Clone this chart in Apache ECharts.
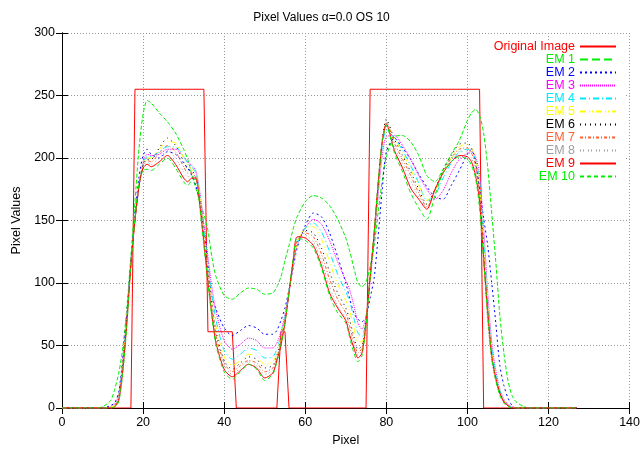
<!DOCTYPE html>
<html>
<head>
<meta charset="utf-8">
<script src="https://cdn.jsdelivr.net/npm/echarts@6/dist/echarts.min.js"></script>
<style>
  html, body { margin: 0; padding: 0; background: #fff; }
  #chart { width: 643px; height: 452px; }
</style>
</head>
<body>
<div id="chart"></div>
<script>
// sample positions (pixel index) shared by all EM curves
const pixels = [0, 8, 10, 12, 13, 14, 15, 16, 17, 18,
  19, 20, 21, 22, 24, 26, 28, 30, 31, 32,
  33, 34, 35, 36, 37, 38, 40, 42, 44, 46,
  48, 50, 52, 53, 54, 55, 56, 57, 58, 60,
  62, 64, 66, 68, 70, 71, 72, 73, 74, 75,
  76, 77, 78, 79, 80, 82, 84, 86, 88, 90,
  92, 94, 96, 98, 100, 101, 102, 103, 104, 105,
  106, 107, 108, 109, 110, 111, 112, 114, 116, 127];

// original step image
const origX = [0, 17, 18, 35, 36, 42, 43, 53, 54, 55, 56, 75, 76, 103, 104, 127];
const origY = [0, 0, 255, 255, 61, 61, 0, 0, 61, 61, 0, 0, 255, 255, 0, 0];

const em1 = [0, 0, 1, 6, 15, 28, 48, 80, 122, 165,
  208, 235, 246, 244, 236, 229, 220, 207, 199, 187,
  176, 165, 155, 142, 120, 105, 90, 87, 92, 96,
  95, 91, 92, 97, 105, 118, 130, 143, 153, 165,
  170, 168, 162, 151, 136, 125, 112, 100, 97, 101,
  113, 130, 157, 182, 201, 217, 218, 213, 202, 186,
  181, 191, 203, 214, 230, 236, 239, 234, 220, 193,
  156, 117, 74, 44, 22, 10, 5, 1, 0, 0];
const em2 = [0, 0, 0, 2, 4, 13, 40, 76, 117, 155,
  185, 202, 207, 203, 200, 205, 203, 196, 192, 186,
  178, 165, 145, 115, 88, 79, 64, 58, 62, 66,
  64, 59, 59, 62, 70, 80, 95, 112, 128, 146,
  156, 153, 140, 121, 100, 87, 76, 71, 69, 73,
  88, 104, 138, 175, 205, 216, 208, 199, 187, 177,
  169, 167, 178, 190, 203, 207, 196, 175, 152, 130,
  100, 68, 34, 18, 8, 2, 0, 0, 0, 0];
const em3 = [0, 0, 0, 1, 3, 11, 38, 75, 116, 151,
  177, 197, 203, 202, 203, 207, 207, 201, 197, 194,
  190, 173, 147, 121, 96, 77, 54, 47, 51, 56,
  54, 48, 48, 52, 61, 75, 93, 113, 130, 144,
  151, 147, 134, 117, 102, 94, 82, 68, 63, 74,
  101, 134, 170, 202, 217, 218, 210, 199, 186, 175,
  167, 174, 188, 199, 204, 205, 201, 187, 145, 93,
  53, 30, 15, 7, 3, 1, 0, 0, 0, 0];
const em4 = [0, 0, 0, 1, 2, 10, 36, 74, 116, 151,
  177, 196, 201, 201, 205, 209, 209, 201, 196, 193,
  188, 170, 143, 116, 90, 70, 46, 39, 43, 48,
  46, 40, 41, 47, 58, 73, 93, 114, 131, 144,
  148, 141, 125, 107, 93, 85, 72, 60, 57, 72,
  103, 138, 176, 209, 222, 216, 206, 194, 180, 166,
  170, 184, 196, 205, 207, 205, 199, 182, 136, 85,
  48, 27, 14, 6, 2, 1, 0, 0, 0, 0];
const em5 = [0, 0, 0, 1, 2, 9, 35, 73, 116, 151,
  178, 196, 200, 200, 207, 213, 212, 200, 194, 191,
  186, 168, 140, 112, 86, 65, 41, 34, 38, 43,
  41, 35, 37, 44, 56, 72, 93, 115, 132, 144,
  145, 135, 117, 99, 86, 77, 64, 53, 53, 71,
  104, 140, 178, 212, 226, 216, 204, 191, 178, 166,
  174, 188, 200, 209, 211, 208, 200, 179, 131, 80,
  44, 25, 13, 6, 2, 1, 0, 0, 0, 0];
const em6 = [0, 0, 0, 0, 1, 8, 34, 72, 116, 151,
  178, 195, 199, 199, 208, 216, 210, 197, 191, 190,
  185, 166, 138, 109, 83, 61, 38, 31, 36, 41,
  39, 32, 34, 42, 54, 71, 92, 116, 133, 142,
  140, 128, 109, 92, 80, 70, 57, 47, 50, 70,
  104, 140, 180, 215, 231, 215, 202, 189, 175, 163,
  175, 190, 202, 211, 212, 208, 198, 175, 126, 75,
  41, 23, 12, 5, 2, 0, 0, 0, 0, 0];
const em7 = [0, 0, 0, 0, 1, 8, 33, 71, 115, 150,
  178, 194, 198, 197, 204, 210, 205, 193, 188, 188,
  184, 165, 136, 106, 80, 58, 36, 29, 34, 38,
  36, 29, 32, 40, 53, 70, 92, 116, 134, 140,
  137, 123, 103, 87, 76, 65, 53, 44, 48, 69,
  104, 140, 180, 214, 229, 212, 199, 186, 172, 161,
  174, 189, 200, 207, 208, 204, 194, 170, 122, 72,
  39, 22, 11, 5, 2, 0, 0, 0, 0, 0];
const em8 = [0, 0, 0, 0, 1, 7, 32, 70, 115, 150,
  178, 193, 197, 195, 200, 206, 200, 189, 185, 186,
  184, 164, 134, 104, 77, 55, 34, 27, 32, 37,
  34, 27, 30, 39, 52, 69, 92, 117, 135, 138,
  133, 118, 97, 82, 72, 61, 50, 42, 46, 68,
  104, 140, 180, 214, 228, 209, 196, 182, 169, 160,
  174, 189, 199, 205, 205, 200, 190, 166, 118, 70,
  38, 22, 11, 5, 2, 0, 0, 0, 0, 0];
const em9 = [0, 0, 0, 0, 1, 6, 30, 68, 115, 150,
  178, 192, 195, 193, 197, 202, 195, 184, 181, 184,
  184, 162, 132, 101, 74, 52, 31, 25, 30, 35,
  32, 24, 28, 38, 50, 68, 92, 118, 137, 136,
  130, 114, 92, 80, 70, 58, 48, 40, 44, 68,
  105, 140, 180, 213, 227, 206, 192, 176, 167, 159,
  175, 188, 197, 202, 201, 197, 186, 165, 120, 78,
  42, 24, 12, 5, 2, 0, 0, 0, 0, 0];
const em10 = [0, 0, 0, 0, 1, 5, 28, 66, 115, 152,
  180, 190, 191, 190, 195, 200, 192, 181, 178, 182,
  183, 160, 130, 99, 72, 50, 29, 23, 29, 35,
  31, 22, 27, 37, 50, 68, 93, 119, 136, 134,
  128, 112, 90, 76, 68, 56, 44, 37, 42, 66,
  104, 140, 181, 214, 226, 204, 189, 172, 160, 151,
  170, 188, 197, 201, 199, 194, 184, 160, 118, 75,
  40, 22, 10, 4, 1, 0, 0, 0, 0, 0];

const emNames = ['EM 1', 'EM 2', 'EM 3', 'EM 4', 'EM 5', 'EM 6', 'EM 7', 'EM 8', 'EM 9', 'EM 10'];
const emValues = [em1, em2, em3, em4, em5, em6, em7, em8, em9, em10];

const FONT = 'Liberation Sans, Arial, sans-serif';
const emColors = ['#00ee00', '#0000ff', '#ff00ff', '#00e8ff', '#ffff00',
  '#000000', '#ff6030', '#a0a0a0', '#ff0000', '#00ee00'];
const emDash = ['dashed', [2, 3], [1, 1], [6, 3, 1, 3], [6, 3, 1, 2, 1, 3],
  [1, 4], [3, 2, 1, 2], [1, 2, 1, 4], 'solid', [4, 3]];

const zip = (xs, ys) => xs.map((x, i) => [x, ys[i]]);

const series = [{
  name: 'Original Image',
  type: 'line',
  data: zip(origX, origY),
  symbol: 'none',
  lineStyle: { color: '#ff0000', width: 1 },
  itemStyle: { color: '#ff0000' }
}];
emValues.forEach((vals, i) => {
  series.push({
    name: emNames[i],
    type: 'line',
    data: zip(pixels, vals),
    symbol: 'none',
    smooth: 0.25,
    lineStyle: { color: emColors[i], width: 1, type: emDash[i] },
    itemStyle: { color: emColors[i] }
  });
});

const legendData = [{ name: 'Original Image', textStyle: { color: '#ff0000' } }]
  .concat(emNames.map((n, i) => ({ name: n, textStyle: { color: emColors[i] } })));

const tickStyle = { inside: true, length: 6, lineStyle: { color: '#000' } };
const gridLine = { show: true, lineStyle: { color: '#999', type: [1, 2], width: 1 } };

const option = {
  animation: false,
  backgroundColor: '#fff',
  title: {
    text: 'Pixel Values \u03b1=0.0 OS 10',
    left: 'center',
    top: 7,
    textStyle: { fontFamily: FONT, fontSize: 12, fontWeight: 'normal', color: '#000' }
  },
  grid: { left: 62, right: 10, top: 33, bottom: 42 },
  legend: {
    orient: 'vertical',
    right: 26,
    top: 40,
    padding: 0,
    align: 'right',
    itemWidth: 36,
    itemHeight: 12.5,
    itemGap: 0,
    selectedMode: false,
    // hide the marker circle, keep only the line sample
    itemStyle: { opacity: 0 },
    textStyle: { fontFamily: FONT, fontSize: 12.5 },
    data: legendData
  },
  graphic: [{
    // gnuplot leaves the key area free of grid lines
    type: 'rect',
    left: 468,
    top: 40,
    z: 1,
    shape: { width: 158, height: 138 },
    style: { fill: '#fff' }
  }],
  xAxis: [{
    type: 'value',
    min: 0,
    max: 140,
    interval: 20,
    name: 'Pixel',
    nameLocation: 'middle',
    nameGap: 26,
    nameTextStyle: { fontFamily: FONT, fontSize: 12.5, color: '#000' },
    axisLine: { lineStyle: { color: '#000' } },
    axisTick: tickStyle,
    axisLabel: { fontFamily: FONT, fontSize: 12.5, color: '#000', margin: 8 },
    splitLine: gridLine
  }, {
    type: 'value',
    position: 'top',
    min: 0,
    max: 140,
    interval: 20,
    axisLine: { lineStyle: { color: '#000' } },
    axisTick: tickStyle,
    axisLabel: { show: false },
    splitLine: { show: false }
  }],
  yAxis: [{
    type: 'value',
    min: 0,
    max: 300,
    interval: 50,
    name: 'Pixel Values',
    nameLocation: 'middle',
    nameGap: 36,
    nameTextStyle: { fontFamily: FONT, fontSize: 12.5, color: '#000' },
    axisLine: { show: true, lineStyle: { color: '#000' } },
    axisTick: { show: true, ...tickStyle },
    axisLabel: { fontFamily: FONT, fontSize: 12.5, color: '#000', margin: 7 },
    splitLine: gridLine
  }, {
    type: 'value',
    position: 'right',
    min: 0,
    max: 300,
    interval: 50,
    axisLine: { show: true, lineStyle: { color: '#000' } },
    axisTick: { show: true, ...tickStyle },
    axisLabel: { show: false },
    splitLine: { show: false }
  }],
  series: series
};

const myChart = echarts.init(document.getElementById('chart'));
myChart.setOption(option);
</script>
</body>
</html>
